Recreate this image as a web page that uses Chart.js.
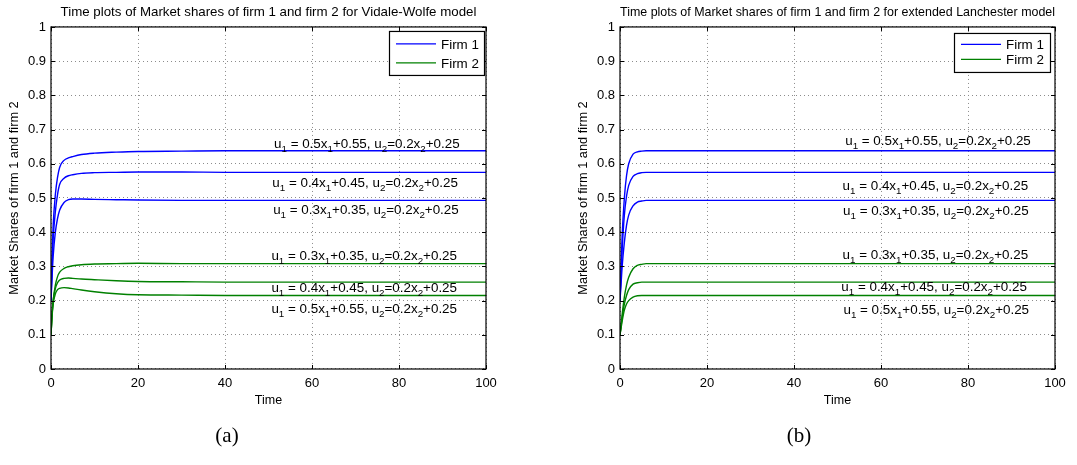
<!DOCTYPE html>
<html>
<head>
<meta charset="utf-8">
<script src="https://cdn.jsdelivr.net/npm/chart.js@4.4.0/dist/chart.umd.min.js"></script>
<style>
  body { margin: 0; background: #fff; width: 1077px; height: 465px; position: relative; overflow: hidden; }
  .plot { position: absolute; top: 0; }
  #left { left: 0; }
  #right { left: 569px; }
  .cap { position: absolute; top: 423px; width: 60px; text-align: center; font-family: "Liberation Serif", "DejaVu Serif", serif; font-size: 21px; color: #000; }
</style>
</head>
<body>
<div class="plot" id="left"><canvas id="vw" width="540" height="465"></canvas></div>
<div class="plot" id="right"><canvas id="la" width="508" height="465"></canvas></div>
<div class="cap" style="left:197px">(a)</div>
<div class="cap" style="left:769px">(b)</div>
<script>
// time points and market shares
const tVW = [0, 0.25, 0.5, 1, 1.5, 2, 3, 4, 5, 7, 10, 15, 20, 30, 40, 60, 80, 100];
const vwFirm1_05 = [0.2, 0.33, 0.42, 0.51, 0.56, 0.59, 0.61, 0.617, 0.621, 0.627, 0.631, 0.634, 0.636, 0.637, 0.638, 0.638, 0.638, 0.638];
const vwFirm1_04 = [0.2, 0.30, 0.38, 0.46, 0.51, 0.54, 0.558, 0.565, 0.568, 0.572, 0.574, 0.575, 0.576, 0.576, 0.575, 0.575, 0.575, 0.575];
const vwFirm1_03 = [0.2, 0.27, 0.33, 0.40, 0.44, 0.465, 0.487, 0.495, 0.497, 0.497, 0.496, 0.495, 0.494, 0.493, 0.493, 0.493, 0.493, 0.493];
const vwFirm2_03 = [0.1, 0.16, 0.20, 0.245, 0.27, 0.283, 0.294, 0.299, 0.302, 0.305, 0.307, 0.308, 0.309, 0.308, 0.308, 0.308, 0.308, 0.308];
const vwFirm2_04 = [0.1, 0.16, 0.20, 0.235, 0.252, 0.26, 0.265, 0.266, 0.265, 0.263, 0.261, 0.258, 0.256, 0.255, 0.254, 0.254, 0.254, 0.254];
const vwFirm2_05 = [0.1, 0.155, 0.19, 0.22, 0.232, 0.236, 0.238, 0.237, 0.235, 0.231, 0.226, 0.220, 0.217, 0.216, 0.215, 0.215, 0.215, 0.215];

const tLA = [0, 0.25, 0.5, 1, 1.5, 2, 3, 4, 5, 6, 8, 10, 20, 40, 60, 80, 100];
const laFirm1_05 = [0.2, 0.30, 0.39, 0.50, 0.565, 0.60, 0.628, 0.635, 0.637, 0.638, 0.638, 0.638, 0.638, 0.638, 0.638, 0.638, 0.638];
const laFirm1_04 = [0.2, 0.28, 0.35, 0.45, 0.505, 0.537, 0.563, 0.571, 0.574, 0.575, 0.575, 0.575, 0.575, 0.575, 0.575, 0.575, 0.575];
const laFirm1_03 = [0.2, 0.25, 0.30, 0.37, 0.42, 0.45, 0.477, 0.488, 0.491, 0.493, 0.493, 0.493, 0.493, 0.493, 0.493, 0.493, 0.493];
const laFirm2_03 = [0.1, 0.13, 0.16, 0.21, 0.245, 0.268, 0.293, 0.303, 0.306, 0.308, 0.308, 0.308, 0.308, 0.308, 0.308, 0.308, 0.308];
const laFirm2_04 = [0.1, 0.125, 0.15, 0.19, 0.215, 0.232, 0.248, 0.252, 0.254, 0.254, 0.254, 0.254, 0.254, 0.254, 0.254, 0.254, 0.254];
const laFirm2_05 = [0.1, 0.12, 0.14, 0.172, 0.19, 0.20, 0.21, 0.214, 0.215, 0.215, 0.215, 0.215, 0.215, 0.215, 0.215, 0.215, 0.215];

const xTickLabels = ["0", "20", "40", "60", "80", "100"];
const yTickLabels = ["0", "0.1", "0.2", "0.3", "0.4", "0.5", "0.6", "0.7", "0.8", "0.9", "1"];
const legendLabels = ["Firm 1", "Firm 2"];

const vwNotes = [
  { text: "u_1 = 0.5x_1+0.55, u_2=0.2x_2+0.25", x: 72.6, y: 0.647 },
  { text: "u_1 = 0.4x_1+0.45, u_2=0.2x_2+0.25", x: 72.2, y: 0.531 },
  { text: "u_1 = 0.3x_1+0.35, u_2=0.2x_2+0.25", x: 72.4, y: 0.453 },
  { text: "u_1 = 0.3x_1+0.35, u_2=0.2x_2+0.25", x: 72.0, y: 0.320 },
  { text: "u_1 = 0.4x_1+0.45, u_2=0.2x_2+0.25", x: 72.0, y: 0.226 },
  { text: "u_1 = 0.5x_1+0.55, u_2=0.2x_2+0.25", x: 72.0, y: 0.165 },
];
const laNotes = [
  { text: "u_1 = 0.5x_1+0.55, u_2=0.2x_2+0.25", x: 73.1, y: 0.655 },
  { text: "u_1 = 0.4x_1+0.45, u_2=0.2x_2+0.25", x: 72.5, y: 0.523 },
  { text: "u_1 = 0.3x_1+0.35, u_2=0.2x_2+0.25", x: 72.6, y: 0.450 },
  { text: "u_1 = 0.3x_1+0.35, u_2=0.2x_2+0.25", x: 72.5, y: 0.322 },
  { text: "u_1 = 0.4x_1+0.45, u_2=0.2x_2+0.25", x: 72.2, y: 0.227 },
  { text: "u_1 = 0.5x_1+0.55, u_2=0.2x_2+0.25", x: 72.7, y: 0.161 },
];

const BLUE = "#0000ff";
const GREEN = "#008000";
const FONT = "'Liberation Sans', Arial, sans-serif";

function pts(t, v) {
  return t.map((x, i) => ({ x: x, y: v[i] }));
}

function line(t, v, color) {
  return {
    data: pts(t, v),
    borderColor: color,
    borderWidth: 1.4,
    pointRadius: 0,
    fill: false,
    cubicInterpolationMode: "monotone",
  };
}

// draws text like u_1 with one-character subscripts, centred on x
function drawNote(ctx, str, x, y) {
  const parts = [];
  let buf = "";
  for (let i = 0; i < str.length; i++) {
    if (str[i] === "_") {
      if (buf) parts.push([buf, false]);
      buf = "";
      parts.push([str[i + 1], true]);
      i++;
    } else {
      buf += str[i];
    }
  }
  if (buf) parts.push([buf, false]);
  const main = "13.4px " + FONT;
  const sub = "9.8px " + FONT;
  let w = 0;
  parts.forEach((p) => {
    ctx.font = p[1] ? sub : main;
    w += ctx.measureText(p[0]).width;
  });
  let cx = x - w / 2;
  ctx.fillStyle = "#000";
  ctx.textAlign = "left";
  ctx.textBaseline = "alphabetic";
  parts.forEach((p) => {
    ctx.font = p[1] ? sub : main;
    ctx.fillText(p[0], cx, y + (p[1] ? 4 : 0));
    cx += ctx.measureText(p[0]).width;
  });
}

function framePlugin(notes, leg) {
  return {
    id: "frame",
    afterDatasetsDraw(chart) {
      const ctx = chart.ctx;
      const a = chart.chartArea;
      const xs = chart.scales.x;
      const ys = chart.scales.y;
      ctx.save();
      // box
      ctx.strokeStyle = "#000";
      ctx.lineWidth = 1.2;
      ctx.strokeRect(a.left, a.top, a.right - a.left, a.bottom - a.top);
      // inward ticks on all sides
      ctx.lineWidth = 1;
      ctx.beginPath();
      xs.ticks.forEach((tk) => {
        const px = Math.round(xs.getPixelForValue(tk.value)) + 0.5;
        ctx.moveTo(px, a.bottom); ctx.lineTo(px, a.bottom - 4);
        ctx.moveTo(px, a.top); ctx.lineTo(px, a.top + 4);
      });
      ys.ticks.forEach((tk) => {
        const py = Math.round(ys.getPixelForValue(tk.value)) + 0.5;
        ctx.moveTo(a.left, py); ctx.lineTo(a.left + 4, py);
        ctx.moveTo(a.right, py); ctx.lineTo(a.right - 4, py);
      });
      ctx.stroke();
      // curve labels
      notes.forEach((n) => {
        drawNote(ctx, n.text, xs.getPixelForValue(n.x), ys.getPixelForValue(n.y));
      });
      // legend
      const lx = a.right - leg.right - leg.w;
      const ly = a.top + leg.top;
      ctx.fillStyle = "#fff";
      ctx.fillRect(lx, ly, leg.w, leg.h);
      ctx.strokeStyle = "#000";
      ctx.lineWidth = 1.2;
      ctx.strokeRect(lx + 0.5, ly + 0.5, leg.w, leg.h);
      [BLUE, GREEN].forEach((c, i) => {
        const ry = ly + leg.rows[i];
        ctx.strokeStyle = c;
        ctx.lineWidth = 1.2;
        ctx.beginPath();
        ctx.moveTo(lx + 7, ry);
        ctx.lineTo(lx + 47, ry);
        ctx.stroke();
        ctx.fillStyle = "#000";
        ctx.font = "13.4px " + FONT;
        ctx.textAlign = "left";
        ctx.textBaseline = "middle";
        ctx.fillText(legendLabels[i], lx + 52, ry + 1);
      });
      ctx.restore();
    },
  };
}

function makeChart(id, title, datasets, notes, leg, padRight) {
  return new Chart(document.getElementById(id), {
    type: "line",
    data: { datasets: datasets },
    options: {
      responsive: false,
      animation: false,
      devicePixelRatio: 1,
      layout: { padding: { left: 0, right: padRight, top: 0, bottom: 56 } },
      plugins: {
        legend: { display: false },
        tooltip: { enabled: false },
        title: {
          display: true,
          text: title,
          fullSize: false,
          color: "#000",
          font: { family: FONT, size: 13.3, weight: "normal" },
          padding: { top: 4, bottom: 7 },
        },
      },
      scales: {
        x: {
          type: "linear",
          min: 0,
          max: 100,
          afterFit(s) {
            s.height = 40;
            s.paddingLeft = 0;
            s.paddingRight = 0;
          },
          ticks: {
            stepSize: 20,
            maxRotation: 0,
            padding: 7,
            color: "#000",
            font: { family: FONT, size: 13 },
            callback: (v, i) => xTickLabels[i],
          },
          grid: { color: "#8c8c8c", lineWidth: 1, drawTicks: false },
          border: { display: false, dash: [1, 3] },
          title: {
            display: true,
            text: "Time",
            color: "#000",
            font: { family: FONT, size: 12.5 },
            padding: { top: 0, bottom: 1 },
          },
        },
        y: {
          min: 0,
          max: 1,
          afterFit(s) {
            s.width = 51;
            s.paddingTop = 0;
            s.paddingBottom = 0;
          },
          ticks: {
            stepSize: 0.1,
            padding: 5,
            color: "#000",
            font: { family: FONT, size: 13 },
            callback: (v, i) => yTickLabels[i],
          },
          grid: { color: "#8c8c8c", lineWidth: 1, drawTicks: false },
          border: { display: false, dash: [1, 3] },
          title: {
            display: true,
            text: "Market Shares of firm 1 and firm 2",
            color: "#000",
            font: { family: FONT, size: 12.8 },
            padding: { top: 7, bottom: 0 },
          },
        },
      },
    },
    plugins: [framePlugin(notes, leg)],
  });
}

makeChart(
  "vw",
  "Time plots of Market shares of firm 1 and firm 2 for Vidale-Wolfe model",
  [
    line(tVW, vwFirm1_05, BLUE),
    line(tVW, vwFirm1_04, BLUE),
    line(tVW, vwFirm1_03, BLUE),
    line(tVW, vwFirm2_03, GREEN),
    line(tVW, vwFirm2_04, GREEN),
    line(tVW, vwFirm2_05, GREEN),
  ],
  vwNotes,
  { w: 95, h: 44, right: 2, top: 4, rows: [13, 32] },
  54
);

makeChart(
  "la",
  "Time plots of Market shares of firm 1 and firm 2 for extended Lanchester model",
  [
    line(tLA, laFirm1_05, BLUE),
    line(tLA, laFirm1_04, BLUE),
    line(tLA, laFirm1_03, BLUE),
    line(tLA, laFirm2_03, GREEN),
    line(tLA, laFirm2_04, GREEN),
    line(tLA, laFirm2_05, GREEN),
  ],
  laNotes,
  { w: 96, h: 39, right: 5, top: 6, rows: [11.5, 26.5] },
  22
);
</script>
</body>
</html>
